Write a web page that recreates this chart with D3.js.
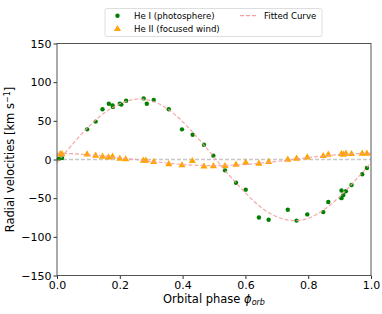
<!DOCTYPE html>
<html><head><meta charset="utf-8">
<script src="https://cdn.jsdelivr.net/npm/d3@7"></script>
<style>body{margin:0;background:#fff}svg{display:block}text{font-family:"DejaVu Sans",sans-serif;fill:#000}</style>
</head><body><svg id="c" width="382" height="314"></svg>
<script>
// He I (photosphere) observations
const heIPhase = [0.006,0.016,0.096,0.123,0.145,0.165,0.177,0.178,0.200,0.205,0.220,0.276,0.286,0.308,0.356,0.398,0.432,0.468,0.498,0.535,0.570,0.601,0.643,0.674,0.735,0.763,0.797,0.848,0.864,0.906,0.906,0.912,0.920,0.938,0.972,0.987];
const heIVel   = [1,2,39,49,65,72,70,68,72,71,76,79,72,77,65,39,32,19,5,-14,-30,-39,-75,-78,-65,-79,-71,-68,-55,-40,-50,-46,-41,-33,-19,-11];
// He II (focused wind) observations
const heIIPhase = [0.010,0.016,0.096,0.123,0.145,0.164,0.177,0.200,0.219,0.275,0.283,0.308,0.356,0.398,0.431,0.468,0.498,0.535,0.570,0.601,0.643,0.674,0.735,0.763,0.797,0.848,0.864,0.906,0.912,0.920,0.938,0.972,0.987];
const heIIVel   = [7,7,6.7,5,3.6,2.8,3.6,1,0.3,-1.5,-1.5,-3.2,-6,-7.5,-2,-9,-8.5,-8.4,-6.7,-4,-5.4,-3.2,-0.3,1,2.8,4.5,6.2,7.1,6.2,7.5,7.1,7.5,7.5];
// Fitted curves
const fitPhase = [0,0.05,0.1,0.15,0.2,0.25,0.3,0.35,0.4,0.45,0.5,0.55,0.6,0.65,0.7,0.75,0.8,0.85,0.9,0.95,1.0];
const fitHeI   = [-4,20,42,60,72,78,76,66,49,27,3,-21,-43,-62,-74,-79,-76,-65,-48,-27,-4];
const fitHeII  = [8,7.5,6,4.5,2,0,-2.5,-4.5,-6.5,-7.5,-8,-7.5,-6.5,-4.5,-2.5,0,2.5,4.5,6.5,7.5,8];
const xTicks = [0,0.2,0.4,0.6,0.8,1.0];
const yTicks = [-150,-100,-50,0,50,100,150];

const svg = d3.select("#c");
const L=57,R=371,T=43.5,B=275.5;
const x = d3.scaleLinear().domain([0,1]).range([L,R]);
const y = d3.scaleLinear().domain([-150,150]).range([B,T]);

// zero line
svg.append("line").attr("x1",L).attr("x2",R).attr("y1",y(0)).attr("y2",y(0))
  .attr("stroke","#c8c8c8").attr("stroke-width",1.3).attr("stroke-dasharray","4,2");

const pts1 = heIPhase.map((p,i)=>[p,heIVel[i]]);
const pts2 = heIIPhase.map((p,i)=>[p,heIIVel[i]]);

svg.append("g").selectAll("circle").data(pts1).join("circle")
  .attr("cx",d=>x(d[0])).attr("cy",d=>y(d[1])).attr("r",2.2).attr("fill","#008000");
const tri = d3.symbol().type(d3.symbolTriangle).size(22);
svg.append("g").selectAll("path").data(pts2).join("path")
  .attr("d",tri).attr("transform",d=>`translate(${x(d[0])},${y(d[1])})`).attr("fill","#FFA500");

const line = d3.line().x(d=>x(d[0])).y(d=>y(d[1])).curve(d3.curveCatmullRom);
[fitHeI,fitHeII].forEach(arr=>{
  svg.append("path").datum(fitPhase.map((p,i)=>[p,arr[i]])).attr("d",line)
    .attr("fill","none").attr("stroke","#f5a0a0").attr("stroke-width",1.2).attr("stroke-dasharray","4,2").attr("opacity",0.9);
});

// axes
const xa = svg.append("g").attr("transform",`translate(0,${B})`)
  .call(d3.axisBottom(x).tickValues(xTicks).tickFormat(d3.format(".1f")).tickSize(3.5).tickPadding(2));
const ya = svg.append("g").attr("transform",`translate(${L},0)`)
  .call(d3.axisLeft(y).tickValues(yTicks).tickFormat(d=>d<0?"\u2212"+Math.abs(d):d).tickSize(3.5).tickPadding(2));
[xa,ya].forEach(g=>{g.select(".domain").remove();g.selectAll("text").attr("font-size",11).attr("font-family","DejaVu Sans");g.selectAll("line").attr("stroke","#333");});
svg.append("rect").attr("x",L).attr("y",T).attr("width",R-L).attr("height",B-T)
  .attr("fill","none").attr("stroke","#444").attr("stroke-width",0.9);

// axis labels
const xl = svg.append("text").attr("x",(L+R)/2).attr("y",303).attr("text-anchor","middle").attr("font-size",11.5);
xl.append("tspan").text("Orbital phase ");
xl.append("tspan").attr("font-style","italic").text("\u03d5");
xl.append("tspan").attr("font-style","italic").attr("font-size",8).attr("dy",2).text("orb");
const yl = svg.append("text").attr("transform",`translate(14,${(T+B)/2}) rotate(-90)`).attr("text-anchor","middle").attr("font-size",11.5);
yl.append("tspan").text("Radial velocities [km s");
yl.append("tspan").attr("font-size",8).attr("dy",-4).text("\u22121");
yl.append("tspan").attr("dy",4).text("]");

// legend
const lg = svg.append("g");
lg.append("rect").attr("x",105).attr("y",8.5).attr("width",217).attr("height",28).attr("rx",2)
  .attr("fill","#fff").attr("stroke","#d6d6d6").attr("stroke-width",0.8);
lg.append("circle").attr("cx",117.5).attr("cy",15.7).attr("r",2.2).attr("fill","#008000");
lg.append("path").attr("d",tri).attr("transform","translate(117.5,29)").attr("fill","#FFA500");
lg.append("line").attr("x1",240).attr("x2",257).attr("y1",15.7).attr("y2",15.7)
  .attr("stroke","#f5a0a0").attr("stroke-width",1.2).attr("stroke-dasharray","4,2");
lg.append("text").attr("x",134).attr("y",19).attr("font-size",8.6).text("He I (photosphere)");
lg.append("text").attr("x",134).attr("y",32.2).attr("font-size",8.6).text("He II (focused wind)");
lg.append("text").attr("x",264).attr("y",19).attr("font-size",8.6).text("Fitted Curve");
</script></body></html>
